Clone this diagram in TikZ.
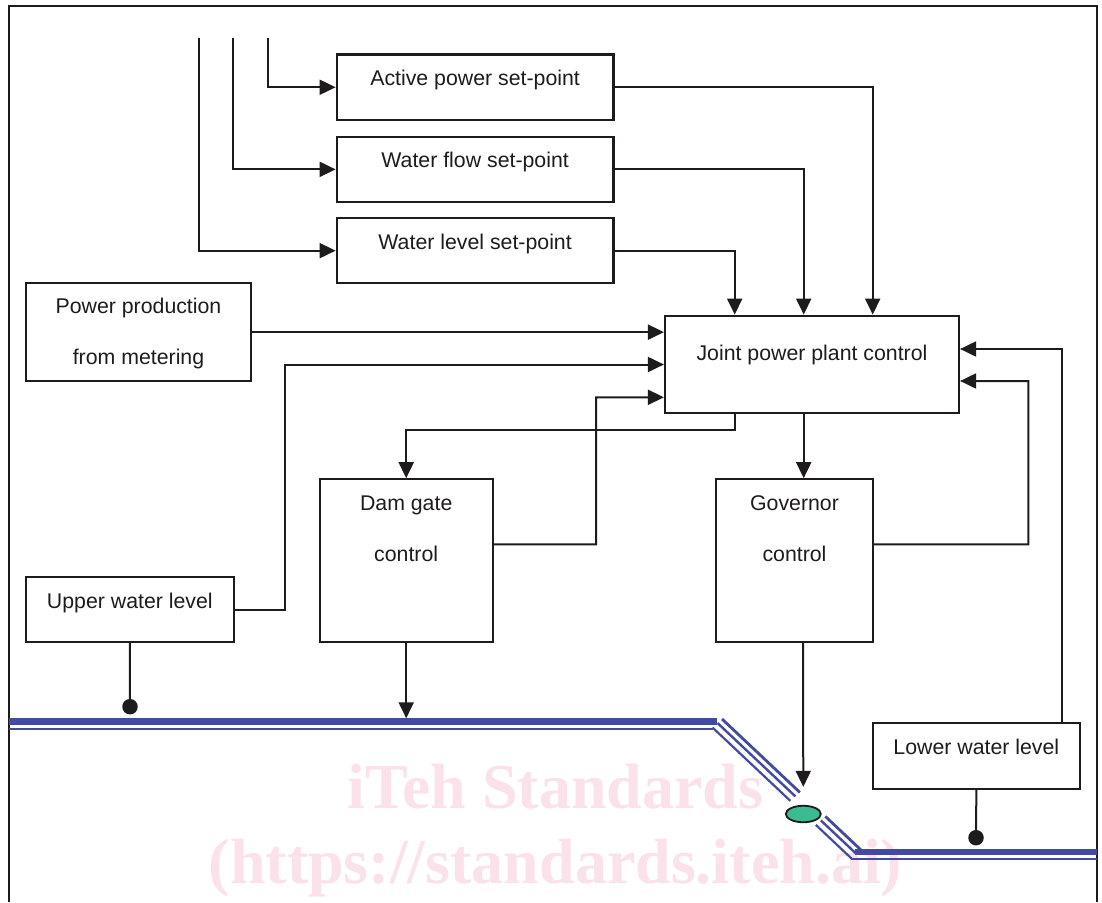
\documentclass[tikz,border=0pt]{standalone}
\usepackage{fontspec}
\setmainfont{Liberation Sans}
\newfontfamily\wmfont{Liberation Serif}
\usetikzlibrary{arrows.meta,calc,shapes.geometric}
\definecolor{ink}{RGB}{30,27,28}
\definecolor{water}{RGB}{66,74,162}
\definecolor{valvegreen}{RGB}{58,187,146}
\definecolor{wmpink}{RGB}{251,226,234}
\begin{document}
\begin{tikzpicture}[x=1pt,y=-1pt,
  box/.style={draw=ink,line width=2.2pt,rectangle,inner sep=0pt},
  txt/.style={text=ink,font=\fontsize{21.3}{25}\selectfont,inner sep=0pt,anchor=base},
  wmtxt/.style={text=wmpink,font=\wmfont\bfseries\fontsize{64}{70}\selectfont,inner sep=0pt,anchor=base},
  conn/.style={draw=ink,line width=2pt},
  arr/.style={conn,-{Triangle[length=16pt,width=15pt]}},
  dot/.style={circle,fill=ink,inner sep=0pt,minimum size=15.5pt},
  pipe/.style={draw=water},
]
\useasboundingbox (0,0) rectangle (1102,902);

% watermark
\node[wmtxt] (wm1) at (555.5,808) {iTeh Standards};
\node[wmtxt] (wm2) at (555.5,883) {(https://standards.iteh.ai)};

% frame
\draw[ink,line width=2.6pt] (9,902) -- (9,6) -- (1097,6) -- (1097,902);

% water course
\draw[pipe,line width=6.8pt] (9,721.7) -- (717,721.7);
\draw[pipe,line width=2pt] (9,728.5) -- (713,728.5);
\draw[pipe,line width=6.4pt] (855,852) -- (1097,852);
\draw[pipe,line width=2pt] (851,859) -- (1097,859);
\draw[pipe,line width=2.8pt] (722,719) -- ($(722,719)!107pt!(861,850)$)
      ($(722,719)!142pt!(861,850)$) -- (861,850);
\draw[pipe,line width=2.4pt] (717.5,723) -- ($(717.5,723)!107pt!(856.5,854)$)
      ($(717.5,723)!142pt!(856.5,854)$) -- (856.5,854);
\draw[pipe,line width=2.2pt] (712.5,727.5) -- ($(712.5,727.5)!107pt!(851.5,858.5)$)
      ($(712.5,727.5)!142pt!(851.5,858.5)$) -- (851.5,858.5);
\node[ellipse,draw=ink,line width=1.8pt,fill=valvegreen,minimum width=35pt,minimum height=16.5pt,inner sep=0pt] (valve) at (803.3,814) {};

% boxes
\node[box,minimum width=276.8pt,minimum height=65.5pt] (ap) at (475.1,87.25) {};
\node[box,minimum width=276.8pt,minimum height=65.3pt] (wf) at (475.1,169.35) {};
\node[box,minimum width=276.8pt,minimum height=64.7pt] (wl) at (475.1,250.65) {};
\node[box,minimum width=225pt,minimum height=97.7pt] (pp) at (138.5,332.15) {};
\node[box,minimum width=294pt,minimum height=97.6pt] (jp) at (812,364.5) {};
\node[box,minimum width=173pt,minimum height=162.7pt] (dg) at (406.2,560.65) {};
\node[box,minimum width=157pt,minimum height=162.7pt] (gv) at (794.5,560.65) {};
\node[box,minimum width=207.7pt,minimum height=65pt] (uw) at (129.85,609.5) {};
\node[box,minimum width=207.3pt,minimum height=65.7pt] (lw) at (976.35,756.15) {};

% texts
\node[txt] (apt) at (475.1,85.5) {Active power set-point};
\node[txt] (wft) at (475.1,167.7) {Water flow set-point};
\node[txt] (wlt) at (475.1,249.3) {Water level set-point};
\node[txt] (ppt1) at (138.5,313.3) {Power production};
\node[txt] (ppt2) at (138.5,364) {from metering};
\node[txt] (jpt) at (812,360) {Joint power plant control};
\node[txt] (dgt1) at (406.2,510) {Dam gate};
\node[txt] (dgt2) at (406.2,561.2) {control};
\node[txt] (gvt1) at (794.5,510) {Governor};
\node[txt] (gvt2) at (794.5,561.2) {control};
\node[txt] (uwt) at (129.85,608.3) {Upper water level};
\node[txt] (lwt) at (976.35,754) {Lower water level};

% dots
\node[dot] (d1) at (130,706.7) {};
\node[dot] (d2) at (976,837.7) {};

% free ends
\coordinate (t1) at (199.3,38.3);
\coordinate (t2) at (233.3,38.3);
\coordinate (t3) at (268.3,38.3);
\coordinate (damin) at (406.2,718.3);

% connectors
\draw[arr] (t3) |- (ap.west);
\draw[arr] (t2) |- (wf.west);
\draw[arr] (t1) |- (wl.west);
\draw[arr] (ap.east) -| ([xshift=60.7pt]jp.north);
\draw[arr] (wf.east) -| ([xshift=-8.3pt]jp.north);
\draw[arr] (wl.east) -| ([xshift=-77.3pt]jp.north);
\draw[arr] (pp.east) -- (jp.west |- pp.east);
\draw[arr] (uw.east) -- (285.3,609.5) |- (jp.west);
\draw[arr] ([yshift=16.3pt]dg.east) -- (596,544.35) |- ([yshift=-32.8pt]jp.west);
\draw[arr] ([xshift=-77.3pt]jp.south) -- (734.7,430) -| (dg.north);
\draw[arr] ([xshift=-8.3pt]jp.south) -- ([xshift=9.2pt]gv.north);
\draw[arr] ([yshift=16.3pt]gv.east) -- (1028.3,544.35) |- ([yshift=-16.5pt]jp.east);
\draw[arr] ([xshift=85.65pt]lw.north) |- ([yshift=15.5pt]jp.east);
\draw[conn] (uw.south) -- (d1);
\draw[conn] (lw.south) -- (d2);
\draw[arr] (dg.south) -- (damin);
\draw[arr] ([xshift=8.5pt]gv.south) -- ([yshift=18pt]valve.north);
\end{tikzpicture}
\end{document}
